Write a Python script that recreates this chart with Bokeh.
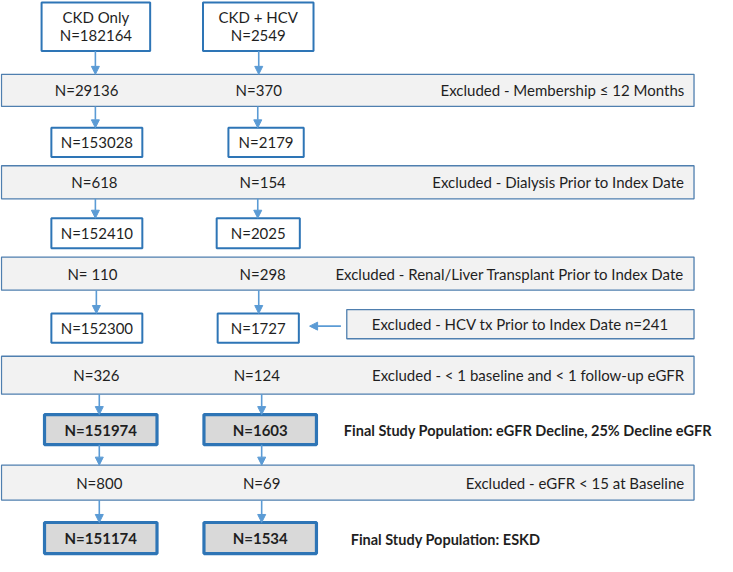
from bokeh.plotting import figure
from bokeh.models import Range1d, Arrow, NormalHead
from bokeh.core.properties import value
from bokeh.embed import file_html
from bokeh.resources import INLINE

# ---------------- data ----------------
groups = ["CKD Only", "CKD + HCV"]
ckd_only_n = [182164, 153028, 152410, 152300, 151974, 151174]
ckd_hcv_n = [2549, 2179, 2025, 1727, 1603, 1534]
ckd_only_excl = ["29136", "618", " 110", "326", "800"]
ckd_hcv_excl = ["370", "154", "298", "124", "69"]
excl_reasons = [
    "Excluded - Membership \u2264 12 Months",
    "Excluded - Dialysis Prior to Index Date",
    "Excluded - Renal/Liver Transplant Prior to Index Date",
    "Excluded - < 1 baseline and < 1 follow-up eGFR",
    "Excluded - eGFR < 15 at Baseline",
]
hcv_tx_excluded = 241
final_labels = ["Final Study Population: eGFR Decline, 25% Decline eGFR",
                "Final Study Population: ESKD"]

# ---------------- layout (page pixel coordinates) ----------------
box_top = [2, 131, 224, 322, 426, 537]
box_bot = [52, 161, 255, 352, 457, 569]
col1_box = [(42, 153), (52, 145), (52, 145), (52, 145), (45, 160), (45, 160)]
col2_box = [(207, 320), (233, 310), (221, 306), (222, 305), (208, 323), (208, 323)]
bold_rows = [4, 5]
band_top = [76, 170, 264, 366, 478]
band_bot = [109, 204, 298, 405, 514]
band_l, band_r = 1, 709
col1_band_tx = [88, 96, 94, 98, 101]
col2_band_tx = [264, 268, 268, 262, 267]
col1_arrow_x = [97, 97, 97, 98, 101, 101, 101]
col2_arrow_x = [264, 263, 263, 264, 267, 267, 267]
arrow_spans = [(52, 76), (109, 131), (204, 224), (298, 322), (405, 426), (457, 478), (514, 537)]
final_tx = [(351, 442), (358, 554)]
side_box = (354, 709, 318, 348)

FONT = value("Lato")
TXT = "#1f1f1f"
BOX_LINE = "#2E75B6"
BAND_LINE = "#4F7FAF"
ARROW = "#5B9BD5"
FS = "15px"
FS_R = "15px"

p = figure(width=717, height=556, x_range=Range1d(0, 733), y_range=Range1d(572, 0),
           output_backend="svg", toolbar_location=None, x_axis_type=None, y_axis_type=None,
           min_border=0, outline_line_color=None, background_fill_color="white")

# bands
p.quad(left=[band_l] * len(band_top), right=[band_r] * len(band_top), top=band_top, bottom=band_bot,
       fill_color="#F2F2F2", line_color=BAND_LINE, line_width=1.3)

# side exclusion box
p.quad(left=[side_box[0]], right=[side_box[1]], top=[side_box[2]], bottom=[side_box[3]],
       fill_color="#F2F2F2", line_color=BAND_LINE, line_width=1.3)

# group boxes
for boxes in (col1_box, col2_box):
    normal = [i for i in range(len(boxes)) if i not in bold_rows]
    p.quad(left=[boxes[i][0] for i in normal], right=[boxes[i][1] for i in normal],
           top=[box_top[i] for i in normal], bottom=[box_bot[i] for i in normal],
           fill_color="white", line_color=BOX_LINE, line_width=2)
    p.quad(left=[boxes[i][0] for i in bold_rows], right=[boxes[i][1] for i in bold_rows],
           top=[box_top[i] for i in bold_rows], bottom=[box_bot[i] for i in bold_rows],
           fill_color="#D9D9D9", line_color=BOX_LINE, line_width=3.2)

# arrows
for xs in (col1_arrow_x, col2_arrow_x):
    for x, (y0, y1) in zip(xs, arrow_spans):
        p.add_layout(Arrow(x_start=x, y_start=y0, x_end=x, y_end=y1, line_color=ARROW, line_width=1.6,
                           end=NormalHead(size=8, line_color=ARROW, fill_color=ARROW, line_width=1)))
p.add_layout(Arrow(x_start=348, y_start=335, x_end=316, y_end=335, line_color=ARROW, line_width=1.6,
                   end=NormalHead(size=8, line_color=ARROW, fill_color=ARROW, line_width=1)))

# top box texts
for boxes, name, n in ((col1_box, groups[0], ckd_only_n[0]), (col2_box, groups[1], ckd_hcv_n[0])):
    cx = (boxes[0][0] + boxes[0][1]) / 2
    p.text(x=[cx, cx], y=[17, 36], text=[name, f"N={n}"], text_align="center", text_baseline="middle",
           text_font=FONT, text_font_size=FS, text_color=TXT)

# box values
for boxes, vals in ((col1_box, ckd_only_n), (col2_box, ckd_hcv_n)):
    rows = range(1, len(vals))
    normal = [i for i in rows if i not in bold_rows]
    p.text(x=[(boxes[i][0] + boxes[i][1]) / 2 for i in normal],
           y=[(box_top[i] + box_bot[i]) / 2 for i in normal],
           text=[f"N={vals[i]}" for i in normal], text_align="center", text_baseline="middle",
           text_font=FONT, text_font_size=FS, text_color=TXT)
    p.text(x=[(boxes[i][0] + boxes[i][1]) / 2 for i in bold_rows],
           y=[(box_top[i] + box_bot[i]) / 2 for i in bold_rows],
           text=[f"N={vals[i]}" for i in bold_rows], text_align="center", text_baseline="middle",
           text_font=FONT, text_font_size=FS, text_font_style="bold", text_color=TXT)

# band texts
band_cy = [(t + b) / 2 for t, b in zip(band_top, band_bot)]
p.text(x=col1_band_tx, y=band_cy, text=[f"N={v}" for v in ckd_only_excl], text_align="center",
       text_baseline="middle", text_font=FONT, text_font_size=FS, text_color=TXT)
p.text(x=col2_band_tx, y=band_cy, text=[f"N={v}" for v in ckd_hcv_excl], text_align="center",
       text_baseline="middle", text_font=FONT, text_font_size=FS, text_color=TXT)
p.text(x=[699] * len(excl_reasons), y=band_cy, text=excl_reasons, text_align="right",
       text_baseline="middle", text_font=FONT, text_font_size=FS_R, text_color=TXT)

# side exclusion text
p.text(x=[(side_box[0] + side_box[1]) / 2], y=[(side_box[2] + side_box[3]) / 2],
       text=[f"Excluded - HCV tx Prior to Index Date n={hcv_tx_excluded}"], text_align="center",
       text_baseline="middle", text_font=FONT, text_font_size=FS_R, text_color=TXT)

# final population labels
p.text(x=[t[0] for t in final_tx], y=[t[1] for t in final_tx], text=final_labels, text_align="left",
       text_baseline="middle", text_font=FONT, text_font_size="14.5px", text_font_style="bold",
       text_color=TXT)

open("out.html", "w").write(file_html(p, INLINE))
